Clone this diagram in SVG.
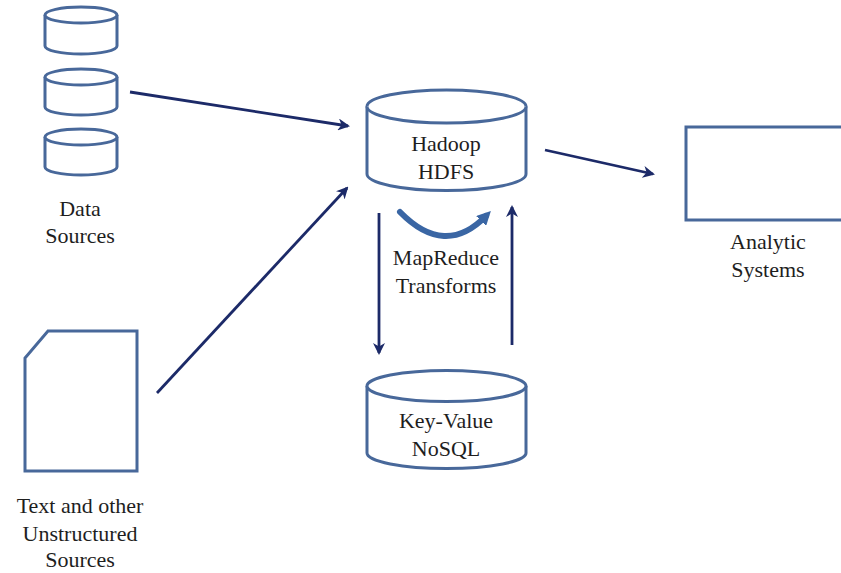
<svg xmlns="http://www.w3.org/2000/svg" width="841" height="573" viewBox="0 0 841 573">
<style>
.shape{fill:#ffffff;stroke:#48689a;stroke-width:3}
.lbl{font-family:"Liberation Serif","Times New Roman",serif;font-size:22px;fill:#1e1e1e;text-anchor:middle}
.conn{stroke:#1c2a68;stroke-width:2.8;fill:none;marker-end:url(#ah)}
</style>
<defs>
<marker id="ah" viewBox="0 0 12 12" refX="10" refY="6" markerWidth="12" markerHeight="12" markerUnits="userSpaceOnUse" orient="auto">
<path d="M0,0 L12,6 L0,12 L3.5,6 z" fill="#1c2a68"/>
</marker>
<marker id="ah2" viewBox="0 0 12 12" refX="6" refY="6" markerWidth="14" markerHeight="14" markerUnits="userSpaceOnUse" orient="auto">
<path d="M0,0 L12,6 L0,12 z" fill="#3a66a4"/>
</marker>
</defs>
<rect width="841" height="573" fill="#ffffff"/>

<g id="data-sources">
<path class="shape" d="M45,15 A36,8 0 0 1 117,15 L117,46 A36,8 0 0 1 45,46 Z"/>
<path class="shape" fill="none" d="M45,15 A36,8 0 0 0 117,15"/>
<path class="shape" d="M45,77 A36,8 0 0 1 117,77 L117,107 A36,8 0 0 1 45,107 Z"/>
<path class="shape" fill="none" d="M45,77 A36,8 0 0 0 117,77"/>
<path class="shape" d="M45,137 A36,8 0 0 1 117,137 L117,167 A36,8 0 0 1 45,167 Z"/>
<path class="shape" fill="none" d="M45,137 A36,8 0 0 0 117,137"/>
<text class="lbl" x="80" y="216">Data</text>
<text class="lbl" x="80" y="243">Sources</text>
</g>

<g id="text-sources">
<path class="shape" d="M48,331 L137,331 L137,471 L25,471 L25,358 Z"/>
<text class="lbl" x="80" y="513">Text and other</text>
<text class="lbl" x="80" y="541">Unstructured</text>
<text class="lbl" x="80" y="567">Sources</text>
</g>

<g id="hadoop-hdfs">
<path class="shape" d="M367,106.5 A79.5,16.5 0 0 1 526,106.5 L526,174 A79.5,16.5 0 0 1 367,174 Z"/>
<path class="shape" fill="none" d="M367,106.5 A79.5,16.5 0 0 0 526,106.5"/>
<text class="lbl" x="446" y="151">Hadoop</text>
<text class="lbl" x="446" y="179">HDFS</text>
</g>

<g id="key-value">
<path class="shape" d="M367,386 A79.5,15.5 0 0 1 526,386 L526,453 A79.5,15.5 0 0 1 367,453 Z"/>
<path class="shape" fill="none" d="M367,386 A79.5,15.5 0 0 0 526,386"/>
<text class="lbl" x="446" y="428">Key-Value</text>
<text class="lbl" x="446" y="456">NoSQL</text>
</g>

<g id="analytic-systems">
<rect class="shape" x="686" y="127" width="170" height="93"/>
<text class="lbl" x="768" y="249">Analytic</text>
<text class="lbl" x="768" y="277">Systems</text>
</g>

<g id="mapreduce">
<path d="M400,212 Q445,258 486,216" fill="none" stroke="#3a66a4" stroke-width="6" stroke-linecap="round" marker-end="url(#ah2)"/>
<text class="lbl" x="446" y="265">MapReduce</text>
<text class="lbl" x="446" y="293">Transforms</text>
</g>

<g id="connectors">
<line class="conn" x1="130" y1="92" x2="348" y2="126"/>
<line class="conn" x1="157" y1="393" x2="347" y2="188"/>
<line class="conn" x1="545" y1="150" x2="653" y2="174"/>
<line class="conn" x1="379" y1="213" x2="379" y2="353"/>
<line class="conn" x1="512" y1="345" x2="512" y2="207"/>
</g>
</svg>
